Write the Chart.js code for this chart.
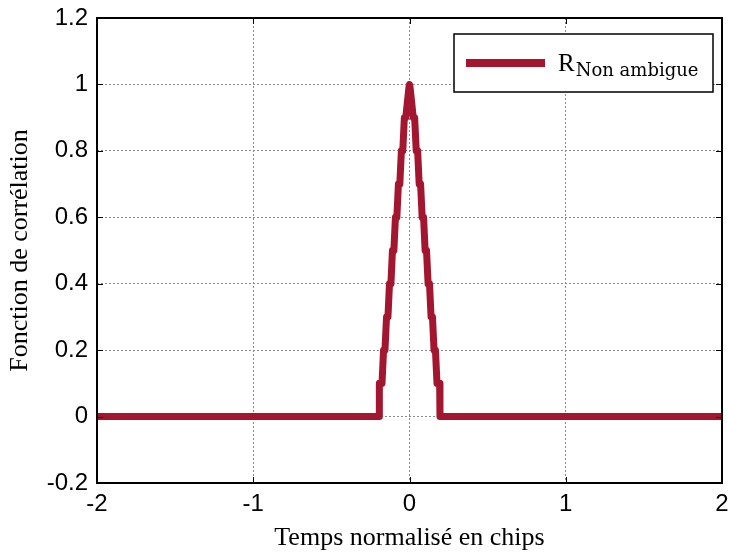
<!DOCTYPE html>
<html>
<head>
<meta charset="utf-8">
<script src="https://cdn.jsdelivr.net/npm/chart.js@4"></script>
<style>
  html, body { margin: 0; padding: 0; background: #ffffff; }
  #wrap { width: 729px; height: 557px; position: relative; }
</style>
</head>
<body>
<div id="wrap"><canvas id="c" width="729" height="557"></canvas></div>
<script>
// ---- Data ----
const timeValues = [
  -2,
  -0.195, -0.193, -0.176, -0.166, -0.157, -0.147, -0.138, -0.128, -0.119, -0.109,
  -0.100, -0.090, -0.081, -0.071, -0.062, -0.052, -0.043, -0.033, -0.024, -0.004,
  0,
  0.004, 0.024, 0.033, 0.043, 0.052, 0.062, 0.071, 0.081, 0.090, 0.100,
  0.109, 0.119, 0.128, 0.138, 0.147, 0.157, 0.166, 0.176, 0.193, 0.195,
  2
];
const correlationValues = [
  0,
  0, 0.1, 0.1, 0.2, 0.2, 0.3, 0.3, 0.4, 0.4, 0.5,
  0.5, 0.6, 0.6, 0.7, 0.7, 0.8, 0.8, 0.9, 0.9, 0.99,
  1,
  0.99, 0.9, 0.9, 0.8, 0.8, 0.7, 0.7, 0.6, 0.6, 0.5,
  0.5, 0.4, 0.4, 0.3, 0.3, 0.2, 0.2, 0.1, 0.1, 0,
  0
];
const xTicks = [-2, -1, 0, 1, 2];
const yTicks = [-0.2, 0, 0.2, 0.4, 0.6, 0.8, 1, 1.2];
const seriesName = 'R';
const seriesSub = 'Non ambigue';
const xTitle = 'Temps normalisé en chips';
const yTitle = 'Fonction de corrélation';

const lineColor = '#A3162F';

const points = timeValues.map((t, i) => ({ x: t, y: correlationValues[i] }));

// inside ticks + frame plugin (MATLAB style)
const framePlugin = {
  id: 'frame',
  afterDraw(chart) {
    const { ctx, chartArea: a, scales } = chart;
    ctx.save();
    ctx.strokeStyle = '#000';
    ctx.lineWidth = 1;
    const L = 6;
    ctx.beginPath();
    xTicks.forEach(v => {
      const px = Math.round(scales.x.getPixelForValue(v)) + 0.5;
      ctx.moveTo(px, a.bottom); ctx.lineTo(px, a.bottom - L);
      ctx.moveTo(px, a.top); ctx.lineTo(px, a.top + L);
    });
    yTicks.forEach(v => {
      const py = Math.round(scales.y.getPixelForValue(v)) + 0.5;
      ctx.moveTo(a.left, py); ctx.lineTo(a.left + L, py);
      ctx.moveTo(a.right, py); ctx.lineTo(a.right - L, py);
    });
    ctx.stroke();
    ctx.lineWidth = 2;
    ctx.strokeRect(a.left, a.top, a.right - a.left, a.bottom - a.top);
    ctx.restore();
  }
};

// custom legend with subscript
const legendPlugin = {
  id: 'subLegend',
  afterDraw(chart) {
    const { ctx } = chart;
    const ds = chart.data.datasets[0];
    const bx = 454, by = 34, bw = 259, bh = 58;
    ctx.save();
    ctx.fillStyle = '#fff';
    ctx.fillRect(bx, by, bw, bh);
    ctx.strokeStyle = '#000';
    ctx.lineWidth = 1.5;
    ctx.strokeRect(bx, by, bw, bh);
    ctx.strokeStyle = ds.borderColor;
    ctx.lineWidth = 8;
    ctx.beginPath();
    ctx.moveTo(466, 63); ctx.lineTo(545, 63);
    ctx.stroke();
    ctx.fillStyle = '#000';
    ctx.textBaseline = 'alphabetic';
    ctx.textAlign = 'left';
    ctx.font = '25px "Liberation Serif", serif';
    ctx.fillText(seriesName, 558, 71);
    const rw = ctx.measureText(seriesName).width;
    ctx.font = '18px "DejaVu Serif", serif';
    ctx.fillText(seriesSub, 558 + rw + 1, 76);
    ctx.restore();
  }
};

new Chart(document.getElementById('c'), {
  type: 'line',
  data: {
    datasets: [{
      label: seriesName + ' ' + seriesSub,
      data: points,
      borderColor: lineColor,
      backgroundColor: lineColor,
      borderWidth: 7,
      pointRadius: 0,
      borderCapStyle: 'round',
      borderJoinStyle: 'round',
      tension: 0,
      fill: false
    }]
  },
  options: {
    responsive: false,
    animation: false,
    layout: { padding: { top: 18, right: 7, left: 0, bottom: 0 } },
    plugins: { legend: { display: false }, tooltip: { enabled: false } },
    scales: {
      x: {
        type: 'linear',
        min: -2, max: 2,
        afterBuildTicks: s => { s.ticks = xTicks.map(v => ({ value: v })); },
        afterFit: s => { s.height = 74; s.paddingLeft = 0; s.paddingRight = 0; },
        border: { display: false, dash: [2, 2] },
        grid: { color: '#8a8a8a', lineWidth: 1, drawTicks: false },
        ticks: {
          color: '#000', padding: 7,
          font: { family: '"Liberation Sans", Arial, sans-serif', size: 24 },
          maxRotation: 0
        },
        title: {
          display: true, text: xTitle, color: '#000',
          font: { family: '"Liberation Serif", "Times New Roman", serif', size: 26 },
          padding: { top: 0, bottom: 3 }
        }
      },
      y: {
        type: 'linear',
        min: -0.2, max: 1.2,
        afterBuildTicks: s => { s.ticks = yTicks.map(v => ({ value: v })); },
        afterFit: s => { s.width = 97; s.paddingTop = 0; s.paddingBottom = 0; },
        border: { display: false, dash: [2, 2] },
        grid: { color: '#8a8a8a', lineWidth: 1, drawTicks: false },
        ticks: {
          color: '#000', padding: 9,
          font: { family: '"Liberation Sans", Arial, sans-serif', size: 24 },
          callback: v => String(Math.round(v * 10) / 10)
        },
        title: {
          display: true, text: yTitle, color: '#000',
          font: { family: '"Liberation Serif", "Times New Roman", serif', size: 26 },
          padding: { top: 5, bottom: 0 }
        }
      }
    }
  },
  plugins: [framePlugin, legendPlugin]
});
</script>
</body>
</html>
